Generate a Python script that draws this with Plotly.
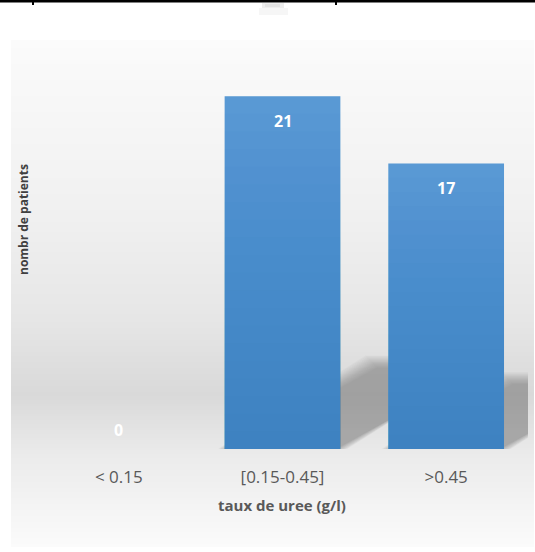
import plotly.graph_objects as go

# ---- data -------------------------------------------------------------
categories = ["< 0.15", "[0.15-0.45]", ">0.45"]
patients = [0, 21, 17]
x_title = "taux de uree (g/l)"
y_title = "nombr de patients"

# ---- layout geometry ----------------------------------------------------
W, H = 535, 552
M_L, M_R, M_T, M_B = 37, 7, 71, 103
PLOT_W = W - M_L - M_R
PLOT_H = H - M_T - M_B
Y_MAX = 22.5
X_RANGE = (-0.5, 2.5)
BARGAP = 0.293
FONT = "Open Sans"
TEXT_GREY = "#595959"

PX_PER_X = PLOT_W / (X_RANGE[1] - X_RANGE[0])
PX_PER_Y = PLOT_H / Y_MAX
HALF_W = (1 - BARGAP) / 2


def px_to_paper(px, py):
    """Convert a figure pixel position into paper coordinates."""
    return (px - M_L) / PLOT_W, (H - M_B - py) / PLOT_H


def lerp(a, b, t):
    return a + (b - a) * t


shapes = []

# ---- vertical grey gradient behind the chart ---------------------------
panel_left, panel_right, panel_top, panel_bottom = 11, 534, 40, 547
stops = [(0.0, 251), (0.35, 240), (0.55, 230), (0.70, 217), (0.82, 235), (1.0, 251)]


def grey_at(t):
    for (t0, g0), (t1, g1) in zip(stops[:-1], stops[1:]):
        if t0 <= t <= t1:
            return lerp(g0, g1, (t - t0) / (t1 - t0))
    return stops[-1][1]


step = 2
py = panel_top
while py < panel_bottom:
    t = (py + step / 2 - panel_top) / (panel_bottom - panel_top)
    g = int(round(grey_at(t)))
    x0, y0 = px_to_paper(panel_left, py)
    x1, y1 = px_to_paper(panel_right, min(py + step + 0.6, panel_bottom))
    shapes.append(dict(type="rect", xref="paper", yref="paper", x0=x0, x1=x1,
                       y0=y1, y1=y0, line=dict(width=0),
                       fillcolor=f"rgb({g},{g},{g})", layer="below"))
    py += step

# ---- thin frame line at the top edge -----------------------------------
x0, y0 = px_to_paper(0, 1)
x1, _ = px_to_paper(W, 1)
shapes.append(dict(type="line", xref="paper", yref="paper", x0=x0, x1=x1,
                   y0=y0, y1=y0, line=dict(color="black", width=3)))
for tick_px in (33, 336):
    tx, ty0 = px_to_paper(tick_px, 0)
    _, ty1 = px_to_paper(tick_px, 5)
    shapes.append(dict(type="line", xref="paper", yref="paper", x0=tx, x1=tx,
                       y0=ty0, y1=ty1, line=dict(color="black", width=2)))
# faint smudge under the frame line
for (sx0, sx1, sy0, sy1, col) in [(262, 284, 3, 8, "rgba(215,215,215,0.45)"),
                                  (259, 288, 8, 15, "rgba(235,235,235,0.45)"),
                                  (265, 280, 4, 7, "rgba(205,205,205,0.35)")]:
    a0, b0 = px_to_paper(sx0, sy0)
    a1, b1 = px_to_paper(sx1, sy1)
    shapes.append(dict(type="rect", xref="paper", yref="paper", x0=a0, x1=a1,
                       y0=b1, y1=b0, fillcolor=col, line=dict(width=0)))

# ---- soft perspective shadows cast by the bars -------------------------
SHADOW_SCALE = 0.245      # shadow height relative to bar height
SHADOW_SKEW = 1.71        # horizontal shift (px) per px of shadow height
for i, v in enumerate(patients):
    if v <= 0:
        continue
    h = SHADOW_SCALE * v
    dx = SHADOW_SKEW * h * PX_PER_Y / PX_PER_X
    for k in range(16):
        grow_px = 7 - k * 0.8          # outer layers larger -> blurred edge
        gx = grow_px / PX_PER_X
        gy = grow_px / PX_PER_Y
        xl, xr = i - HALF_W - gx, i + HALF_W + gx
        top = h + gy
        path = (f"M {xl},0 L {xr},0 L {xr + dx},{top} "
                f"L {xl + dx},{top} Z")
        shapes.append(dict(type="path", xref="x", yref="y", path=path,
                           fillcolor="rgba(70,70,70,0.026)",
                           line=dict(width=0), layer="below"))

# ---- darker lower part of each bar (vertical fill gradient) ------------
N_STRIPS = 20
for i, v in enumerate(patients):
    if v <= 0:
        continue
    for k in range(1, N_STRIPS + 1):
        shapes.append(dict(type="rect", xref="x", yref="y",
                           x0=i - HALF_W, x1=i + HALF_W,
                           y0=0, y1=v * k / N_STRIPS,
                           fillcolor="rgba(20,95,185,0.029)",
                           line=dict(width=0), layer="above"))

# ---- figure -------------------------------------------------------------
fig = go.Figure(go.Bar(
    x=categories,
    y=patients,
    marker=dict(color="#5B9BD5", line=dict(width=0)),
    hoverinfo="x+y",
))

annotations = []
for i, v in enumerate(patients):
    annotations.append(dict(
        x=i, y=v, xref="x", yref="y", text=str(v), showarrow=False,
        yanchor="middle", yshift=-24.5 if v > 0 else 19.5,
        font=dict(family=FONT, size=16, color="white", weight="bold"),
    ))

tx, ty = px_to_paper(282, 505)
annotations.append(dict(x=tx, y=ty, xref="paper", yref="paper", text=x_title,
                        showarrow=False, xanchor="center", yanchor="middle",
                        font=dict(family=FONT, size=15, color=TEXT_GREY, weight="bold")))
tx, ty = px_to_paper(23, 220)
annotations.append(dict(x=tx, y=ty, xref="paper", yref="paper", text=y_title,
                        showarrow=False, textangle=-90, xanchor="center",
                        yanchor="middle",
                        font=dict(family=FONT, size=12, color="#404040", weight="bold")))

fig.update_layout(
    width=W, height=H,
    margin=dict(l=M_L, r=M_R, t=M_T, b=M_B, autoexpand=False),
    paper_bgcolor="white",
    plot_bgcolor="rgba(0,0,0,0)",
    bargap=BARGAP,
    showlegend=False,
    shapes=shapes,
    annotations=annotations,
    xaxis=dict(range=list(X_RANGE), showgrid=False, zeroline=False, showline=False,
               ticks="outside", ticklen=13, tickcolor="rgba(0,0,0,0)",
               tickfont=dict(family=FONT, size=17, color=TEXT_GREY),
               fixedrange=True),
    yaxis=dict(range=[0, Y_MAX], visible=False, fixedrange=True),
)

fig.write_html("out.html")
